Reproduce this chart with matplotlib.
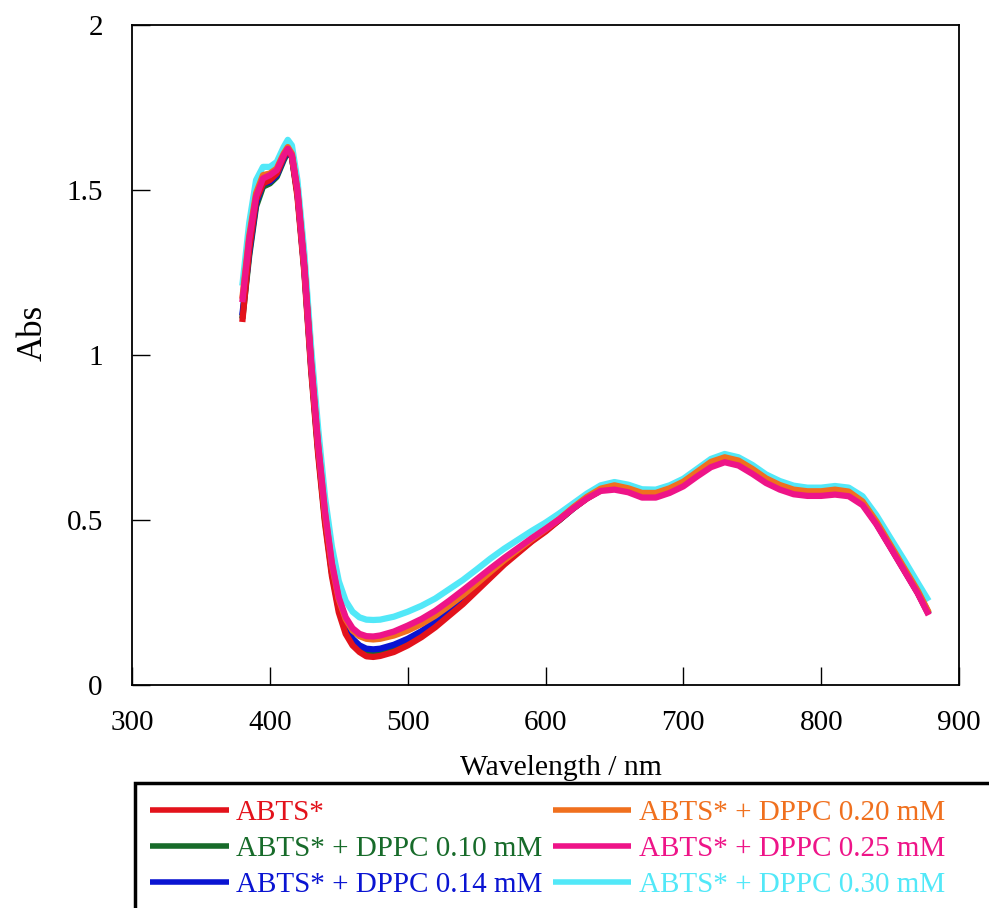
import matplotlib
matplotlib.use("Agg")
import matplotlib.pyplot as plt
from matplotlib.patches import Rectangle

plt.rcParams['font.family'] = ['Liberation Serif', 'DejaVu Serif']

wavelength = [380, 385, 390, 395, 400, 405, 410, 413, 416, 420, 425, 430, 435, 440, 445,
              450, 455, 460, 465, 470, 475, 480, 490, 500, 510, 520, 530, 540, 550, 560,
              570, 580, 590, 600, 610, 620, 630, 640, 650, 660, 670, 680, 690, 700, 710,
              720, 730, 740, 750, 760, 770, 780, 790, 800, 810, 820, 830, 840, 850, 860,
              870, 878]

abts = [1.10, 1.32, 1.47, 1.52, 1.53, 1.55, 1.60, 1.625, 1.60, 1.48, 1.25, 0.95, 0.70, 0.49, 0.33,
        0.22, 0.155, 0.12, 0.10, 0.087, 0.085, 0.088, 0.100, 0.120, 0.145, 0.175, 0.21, 0.245, 0.285, 0.325,
        0.365, 0.40, 0.435, 0.465, 0.50, 0.535, 0.565, 0.59, 0.60, 0.59, 0.575, 0.575, 0.59, 0.61, 0.64,
        0.67, 0.685, 0.675, 0.65, 0.62, 0.60, 0.585, 0.58, 0.58, 0.585, 0.58, 0.55, 0.49, 0.42, 0.35,
        0.28, 0.215]

dppc_010 = [1.11, 1.30, 1.45, 1.51, 1.52, 1.54, 1.59, 1.615, 1.60, 1.49, 1.26, 0.96, 0.71, 0.50, 0.34,
            0.23, 0.165, 0.13, 0.11, 0.099, 0.097, 0.10, 0.112, 0.13, 0.155, 0.185, 0.218, 0.252, 0.29, 0.33,
            0.368, 0.403, 0.437, 0.468, 0.50, 0.535, 0.567, 0.592, 0.602, 0.592, 0.578, 0.578, 0.592, 0.612, 0.642,
            0.672, 0.687, 0.677, 0.652, 0.622, 0.602, 0.588, 0.583, 0.583, 0.588, 0.582, 0.552, 0.492, 0.422, 0.352,
            0.282, 0.217]

dppc_014 = [1.12, 1.31, 1.46, 1.52, 1.525, 1.545, 1.595, 1.62, 1.60, 1.49, 1.26, 0.965, 0.715, 0.505, 0.345,
            0.235, 0.175, 0.14, 0.12, 0.11, 0.108, 0.11, 0.122, 0.14, 0.163, 0.192, 0.225, 0.258, 0.295, 0.335,
            0.372, 0.405, 0.438, 0.47, 0.50, 0.535, 0.566, 0.59, 0.60, 0.59, 0.576, 0.576, 0.59, 0.61, 0.64,
            0.67, 0.684, 0.674, 0.65, 0.62, 0.60, 0.586, 0.581, 0.581, 0.586, 0.58, 0.55, 0.49, 0.42, 0.35,
            0.28, 0.215]

dppc_020 = [1.17, 1.36, 1.49, 1.545, 1.55, 1.565, 1.61, 1.63, 1.61, 1.50, 1.27, 0.975, 0.73, 0.52, 0.365,
            0.26, 0.20, 0.165, 0.148, 0.14, 0.138, 0.14, 0.15, 0.165, 0.185, 0.21, 0.24, 0.272, 0.307, 0.343,
            0.378, 0.41, 0.442, 0.472, 0.503, 0.538, 0.57, 0.595, 0.605, 0.596, 0.582, 0.582, 0.596, 0.616, 0.646,
            0.676, 0.69, 0.68, 0.655, 0.626, 0.606, 0.592, 0.587, 0.587, 0.592, 0.586, 0.556, 0.496, 0.426, 0.356,
            0.286, 0.22]

dppc_025 = [1.16, 1.35, 1.48, 1.535, 1.545, 1.56, 1.605, 1.625, 1.605, 1.50, 1.27, 0.975, 0.73, 0.525, 0.37,
            0.265, 0.205, 0.172, 0.155, 0.148, 0.147, 0.15, 0.162, 0.18, 0.20, 0.225, 0.255, 0.287, 0.32, 0.353,
            0.385, 0.415, 0.445, 0.473, 0.502, 0.535, 0.565, 0.588, 0.592, 0.584, 0.568, 0.568, 0.582, 0.602, 0.632,
            0.66, 0.675, 0.665, 0.64, 0.612, 0.592, 0.578, 0.573, 0.573, 0.577, 0.572, 0.545, 0.487, 0.418, 0.348,
            0.278, 0.212]

dppc_030 = [1.21, 1.40, 1.53, 1.57, 1.57, 1.585, 1.63, 1.652, 1.635, 1.53, 1.31, 1.02, 0.78, 0.57, 0.42,
            0.315, 0.255, 0.222, 0.205, 0.198, 0.197, 0.198, 0.207, 0.222, 0.24, 0.262, 0.29, 0.318, 0.35, 0.383,
            0.413, 0.44, 0.467, 0.492, 0.52, 0.55, 0.58, 0.605, 0.615, 0.607, 0.593, 0.592, 0.605, 0.625, 0.655,
            0.685, 0.70, 0.69, 0.667, 0.638, 0.618, 0.604, 0.598, 0.598, 0.603, 0.598, 0.572, 0.515, 0.447, 0.38,
            0.31, 0.255]

labels = ["ABTS*", "ABTS* + DPPC 0.10 mM", "ABTS* + DPPC 0.14 mM",
          "ABTS* + DPPC 0.20 mM", "ABTS* + DPPC 0.25 mM", "ABTS* + DPPC 0.30 mM"]
series = [abts, dppc_010, dppc_014, dppc_020, dppc_025, dppc_030]
colors = ["#e3121b", "#176b2a", "#0a14d2", "#f0701e", "#ee1488", "#52e8f8"]
zorders = [4, 3, 3.5, 4.5, 5, 2]

x_ticks = [300, 400, 500, 600, 700, 800, 900]
x_tick_labels = ["300", "400", "500", "600", "700", "800", "900"]
y_ticks = [0, 0.5, 1, 1.5, 2]
y_tick_labels = ["0", "0.5", "1", "1.5", "2"]

fig = plt.figure(figsize=(9.89, 9.08), dpi=100)
ax = fig.add_axes([0.1335, 0.2456, 0.8362, 0.7269])

lines = []
for vals, lab, col, z in zip(series, labels, colors, zorders):
    ln, = ax.plot(wavelength, vals, color=col, lw=4.5, label=lab, zorder=z,
                  solid_capstyle='butt')
    lines.append(ln)

ax.set_xlim(300, 900)
ax.set_ylim(0, 2)
ax.set_xticks(x_ticks)
ax.set_xticklabels(x_tick_labels)
ax.set_yticks(y_ticks)
ax.set_yticklabels(y_tick_labels)
ax.tick_params(direction='in', length=13, width=1, labelsize=21)
ax.tick_params(axis='x', pad=18)
ax.tick_params(axis='y', pad=21)
for s in ax.spines.values():
    s.set_linewidth(1.3)
ax.set_xlabel("Wavelength / nm", fontsize=21.3, labelpad=14, x=0.519)
ax.set_ylabel("Abs", fontsize=25, labelpad=12, y=0.533)

# legend box frame (extends past the figure's right and bottom edges)
fig.patches.append(Rectangle((135 / 989, -0.05), 1.0, 0.1377 + 0.05,
                             transform=fig.transFigure, fill=False,
                             lw=2.5, ec='black', zorder=1))

leg = fig.legend(lines, labels,
                 ncol=2, loc='upper left',
                 bbox_to_anchor=(150 / 989, 1 - 800 / 908),
                 fontsize=21, frameon=False,
                 handlelength=2.7, handletextpad=0.25, columnspacing=0.35,
                 labelspacing=0.33, borderpad=0, borderaxespad=0)
for txt, col in zip(leg.get_texts(), colors):
    txt.set_color(col)
for h in leg.legend_handles:
    h.set_linewidth(4)

fig.savefig("out.png", dpi=100)
